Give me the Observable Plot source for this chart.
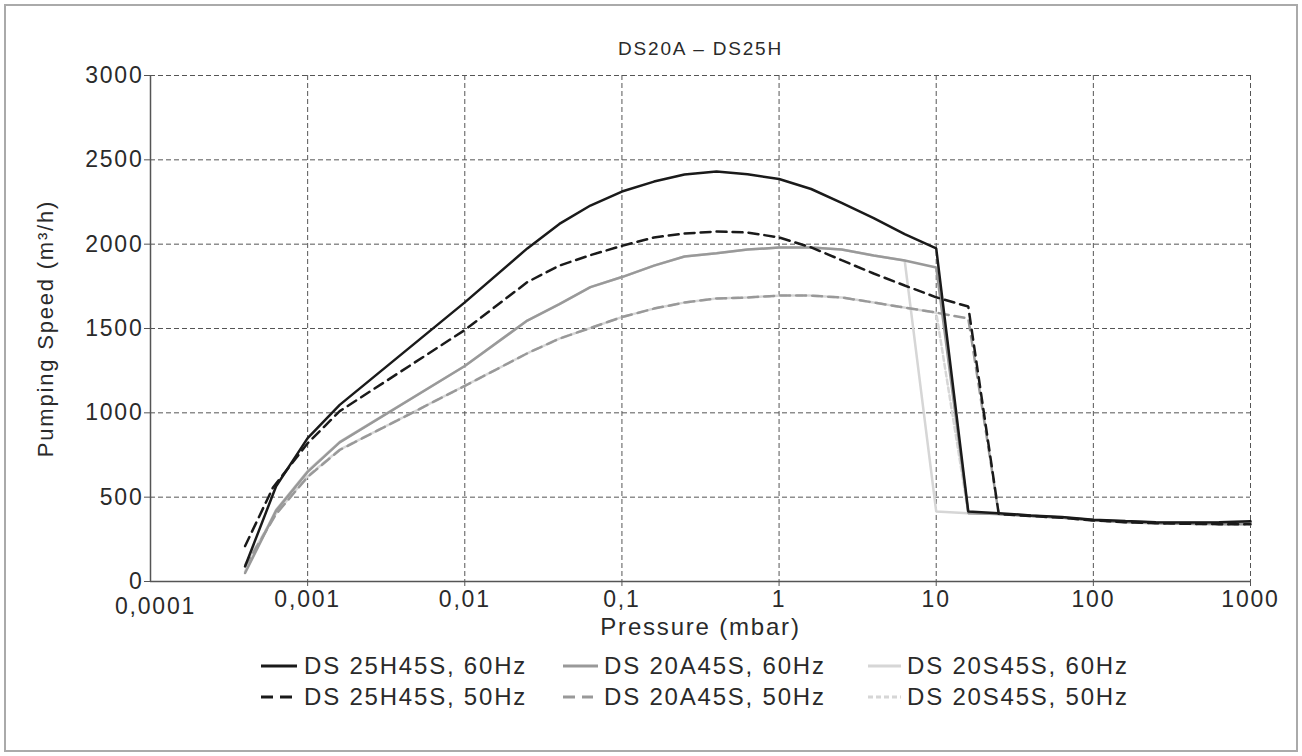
<!DOCTYPE html>
<html><head><meta charset="utf-8">
<script src="https://cdn.jsdelivr.net/npm/d3@7"></script>
<script src="https://cdn.jsdelivr.net/npm/@observablehq/plot@0.6"></script>
<style>
body{margin:0;background:#fff;font-family:"Liberation Sans",Arial,sans-serif;}
#wrap{position:relative;width:1302px;height:756px;overflow:hidden;background:#fff;}
#frame{position:absolute;left:4px;top:4px;width:1294px;height:748px;border:2px solid #aaa;box-sizing:border-box;}
#chart{position:absolute;left:0;top:0;}
.leg{position:absolute;font-size:24px;letter-spacing:1.8px;color:#2a2a2a;white-space:nowrap;height:30px;}
.leg svg{position:absolute;left:0;top:10px;}
.leg span{position:absolute;top:0;line-height:30px;}
</style></head><body>
<div id="wrap"><div id="frame"></div><div id="chart"></div><div id="legend"></div></div>
<script>
// ---- data ----
const title = "DS20A – DS25H";
const xLabel = "Pressure (mbar)";
const yLabel = "Pumping Speed (m³/h)";
const xTicks = [1e-4, 1e-3, 1e-2, 1e-1, 1, 10, 100, 1000];
const xTickLabels = ["0,0001", "0,001", "0,01", "0,1", "1", "10", "100", "1000"];
const yTicks = [0, 500, 1000, 1500, 2000, 2500, 3000];

const seriesNames = ["DS 25H45S, 60Hz", "DS 20A45S, 60Hz", "DS 20S45S, 60Hz", "DS 25H45S, 50Hz", "DS 20A45S, 50Hz", "DS 20S45S, 50Hz"];

const p25H60 = [0.0004, 0.00063, 0.001, 0.0016, 0.01, 0.025, 0.04, 0.063, 0.1, 0.16, 0.25, 0.4, 0.63, 1, 1.6, 2.5, 4, 6.3, 10, 16, 25, 40, 63, 100, 160, 250, 400, 630, 1000];
const s25H60 = [90, 565, 850, 1047, 1655, 1975, 2120, 2229, 2312, 2371, 2413, 2431, 2415, 2386, 2327, 2245, 2155, 2060, 1975, 415, 405, 392, 382, 366, 358, 352, 350, 352, 357];

const p25H50 = [0.0004, 0.0006, 0.001, 0.0016, 0.01, 0.025, 0.04, 0.063, 0.1, 0.16, 0.25, 0.4, 0.63, 1, 1.6, 2.5, 4, 6.3, 10, 16, 25, 40, 63, 100, 160, 250, 400, 630, 1000];
const s25H50 = [210, 555, 820, 1010, 1491, 1775, 1873, 1935, 1990, 2040, 2063, 2075, 2069, 2040, 1981, 1905, 1826, 1755, 1685, 1630, 400, 388, 378, 362, 352, 345, 342, 340, 340];

const p20A60 = [0.0004, 0.00063, 0.001, 0.0016, 0.01, 0.025, 0.04, 0.063, 0.1, 0.16, 0.25, 0.4, 0.63, 1, 1.6, 2.5, 4, 6.3, 10, 16, 25, 40, 63, 100, 160, 250, 400, 630, 1000];
const s20A60 = [50, 420, 650, 825, 1278, 1547, 1645, 1745, 1805, 1873, 1927, 1946, 1968, 1980, 1980, 1968, 1933, 1903, 1862, 405, 400, 390, 380, 364, 356, 350, 348, 348, 352];

const p20A50 = [0.0004, 0.00063, 0.001, 0.0016, 0.01, 0.025, 0.04, 0.063, 0.1, 0.16, 0.25, 0.4, 0.63, 1, 1.6, 2.5, 4, 6.3, 10, 16, 25, 40, 63, 100, 160, 250, 400, 630, 1000];
const s20A50 = [90, 400, 620, 780, 1160, 1353, 1440, 1503, 1568, 1618, 1654, 1678, 1684, 1695, 1695, 1684, 1654, 1624, 1594, 1559, 400, 388, 378, 362, 352, 345, 342, 340, 340];

const p20S60 = [0.0004, 0.00063, 0.001, 0.0016, 0.01, 0.025, 0.04, 0.063, 0.1, 0.16, 0.25, 0.4, 0.63, 1, 1.6, 2.5, 4, 6.3, 10, 16, 25, 40, 63, 100, 160, 250, 400, 630, 1000];
const s20S60 = [60, 425, 655, 828, 1278, 1547, 1645, 1745, 1805, 1873, 1927, 1946, 1968, 1980, 1980, 1968, 1933, 1903, 415, 405, 400, 390, 380, 364, 356, 350, 348, 348, 352];

const p20S50 = [0.0004, 0.00063, 0.001, 0.0016, 0.01, 0.025, 0.04, 0.063, 0.1, 0.16, 0.25, 0.4, 0.63, 1, 1.6, 2.5, 4, 6.3, 10, 16, 25, 40, 63, 100, 160, 250, 400, 630, 1000];
const s20S50 = [100, 405, 625, 782, 1160, 1353, 1440, 1503, 1568, 1618, 1654, 1678, 1684, 1695, 1695, 1684, 1654, 1624, 1594, 405, 400, 388, 378, 362, 352, 345, 342, 340, 340];

// ---- styles ----
const BLACK = "#1a1a1a", GRAY = "#999999", LIGHT = "#d6d6d6";
const TEXT = "#2a2a2a";
const styles = [
  {p: p20S60, s: s20S60, stroke: LIGHT, dash: null},
  {p: p20S50, s: s20S50, stroke: LIGHT, dash: "5,3"},
  {p: p20A60, s: s20A60, stroke: GRAY, dash: null},
  {p: p20A50, s: s20A50, stroke: GRAY, dash: "10,6"},
  {p: p25H60, s: s25H60, stroke: BLACK, dash: null},
  {p: p25H50, s: s25H50, stroke: BLACK, dash: "10,6"}
];

const lineMarks = styles.map(st => Plot.line(st.p, {
  x: st.p, y: st.s, stroke: st.stroke, strokeWidth: 2.5,
  strokeDasharray: st.dash ?? undefined, strokeLinejoin: "miter", curve: "linear"
}));

const chart = Plot.plot({
  width: 1302, height: 650,
  marginLeft: 150, marginRight: 52, marginTop: 75, marginBottom: 69,
  x: {type: "log", domain: [1e-4, 1000]},
  y: {domain: [0, 3000]},
  style: {fontFamily: '"Liberation Sans", Arial, sans-serif', fontSize: "23px", letterSpacing: "1.8px", color: TEXT, background: "transparent"},
  marks: [
    Plot.gridX(xTicks, {stroke: "#555", strokeOpacity: 1, strokeDasharray: "5,3", strokeWidth: 1}),
    Plot.gridY(yTicks, {stroke: "#555", strokeOpacity: 1, strokeDasharray: "5,3", strokeWidth: 1}),
    Plot.ruleY([0], {stroke: "#555", strokeWidth: 1.5}),
    Plot.ruleX([1e-4], {stroke: "#555", strokeWidth: 1.5}),
    Plot.axisX(xTicks.slice(1), {tickFormat: d => xTickLabels[xTicks.indexOf(d)], tickSize: 5, tickPadding: 4, label: null, stroke: "#555", fontSize: 23}),
    Plot.axisY(yTicks, {tickFormat: d => String(d), tickSize: 6, tickPadding: 1, label: null, stroke: "#555", fontSize: 23}),
    Plot.text([xTicks[0]], {x: d => d, y: () => 0, text: () => xTickLabels[0], lineAnchor: "top", dy: 16, dx: 5, fontSize: 23}),
    Plot.text([xLabel], {frameAnchor: "bottom", lineAnchor: "middle", dy: 46, fontSize: 24}),
    Plot.text([yLabel], {frameAnchor: "left", textAnchor: "middle", lineAnchor: "middle", dx: -105, rotate: -90, fontSize: 22, letterSpacing: "1.5px"}),
    Plot.text([title], {frameAnchor: "top", lineAnchor: "middle", dy: -27, fontSize: 19, letterSpacing: "1.2px"}),
    ...lineMarks
  ]
});
document.getElementById("chart").appendChild(chart);

// ---- legend ----
const legendItems = [
  {name: seriesNames[0], stroke: BLACK, dash: null,   left: 261, top: 651, sw: 36, tx: 43},
  {name: seriesNames[1], stroke: GRAY,  dash: null,   left: 563, top: 651, sw: 35, tx: 41},
  {name: seriesNames[2], stroke: LIGHT, dash: null,   left: 868, top: 651, sw: 33, tx: 39},
  {name: seriesNames[3], stroke: BLACK, dash: "12,7", left: 261, top: 682, sw: 36, tx: 43},
  {name: seriesNames[4], stroke: GRAY,  dash: "12,7", left: 563, top: 682, sw: 30, tx: 41},
  {name: seriesNames[5], stroke: LIGHT, dash: "5,3",  left: 868, top: 682, sw: 33, tx: 39}
];
const leg = document.getElementById("legend");
for (const it of legendItems) {
  const d = document.createElement("div");
  d.className = "leg";
  d.style.left = it.left + "px";
  d.style.top = it.top + "px";
  d.innerHTML = `<svg width="${it.sw}" height="10"><line x1="0" y1="5" x2="${it.sw}" y2="5" stroke="${it.stroke}" stroke-width="3" ${it.dash ? `stroke-dasharray="${it.dash}"` : ""}/></svg><span style="left:${it.tx}px">${it.name}</span>`;
  leg.appendChild(d);
}
</script>
</body></html>
